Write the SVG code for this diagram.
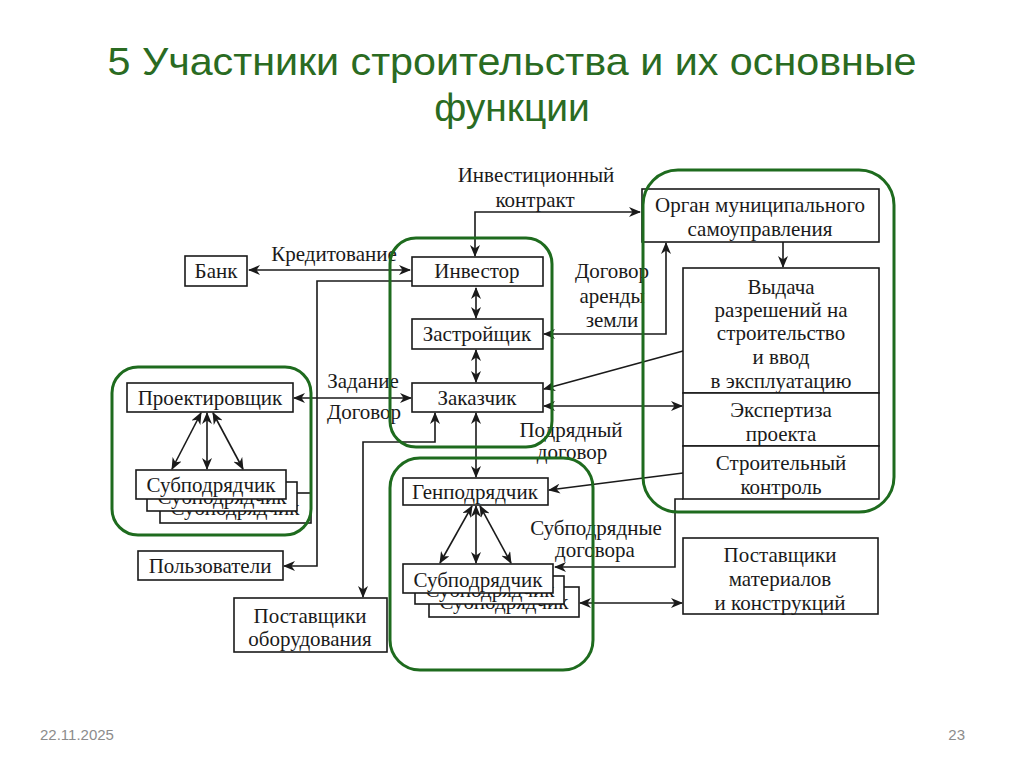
<svg xmlns="http://www.w3.org/2000/svg" width="1024" height="767" viewBox="0 0 1024 767">
<style>
.t{font-family:"Liberation Serif","Times New Roman",serif;font-size:21px;fill:#1a1a1a;text-anchor:middle}
.b{fill:#fff;stroke:#1a1a1a;stroke-width:1.6}
.c{fill:none;stroke:#1a1a1a;stroke-width:1.6}
.g{fill:none;stroke:#1e6b1e;stroke-width:3}
.title{font-family:"Liberation Sans",Arial,sans-serif;font-size:39px;fill:#2a6b22;text-anchor:middle}
.foot{font-family:"Liberation Sans",Arial,sans-serif;font-size:15px;fill:#8c8c8c}
</style>
<defs>
<marker id="a" viewBox="0 0 12 10" refX="11" refY="5" markerWidth="12" markerHeight="10" markerUnits="userSpaceOnUse" orient="auto-start-reverse">
<path d="M0,0 L12,5 L0,10 L3.5,5 z" fill="#1a1a1a"/>
</marker>
</defs>
<rect width="1024" height="767" fill="#fff"/>
<text class="title" x="512" y="75" textLength="809" lengthAdjust="spacingAndGlyphs">5 Участники строительства и их основные</text>
<text class="title" x="512" y="121">функции</text>

<g id="connectors" class="c">
<path d="M249,270 H410" marker-start="url(#a)" marker-end="url(#a)"/>
<path d="M475,256 V212 H640" marker-start="url(#a)" marker-end="url(#a)"/>
<path d="M783,242 V267" marker-end="url(#a)"/>
<path d="M476,288 V318" marker-start="url(#a)" marker-end="url(#a)"/>
<path d="M476,350 V382" marker-start="url(#a)" marker-end="url(#a)"/>
<path d="M476,413 V477" marker-start="url(#a)" marker-end="url(#a)"/>
<path d="M666,243 V334 H544" marker-start="url(#a)" marker-end="url(#a)"/>
<path d="M683,351 L544,389" marker-end="url(#a)"/>
<path d="M544,406 H682" marker-start="url(#a)" marker-end="url(#a)"/>
<path d="M683,473 L549,490" marker-end="url(#a)"/>
<path d="M683,499 H675 V567 H555" marker-end="url(#a)"/>
<path d="M580,603 H682" marker-start="url(#a)" marker-end="url(#a)"/>
<path d="M412,281 H317 V566 H284" marker-end="url(#a)"/>
<path d="M435,413 V442 H363 V597" marker-start="url(#a)" marker-end="url(#a)"/>
<path d="M294,398 H411" marker-start="url(#a)" marker-end="url(#a)"/>
<path d="M472,506 L440,563" marker-start="url(#a)" marker-end="url(#a)"/>
<path d="M476,506 V563" marker-start="url(#a)" marker-end="url(#a)"/>
<path d="M480,506 L511,563" marker-start="url(#a)" marker-end="url(#a)"/>
<path d="M201,413 L172,469" marker-start="url(#a)" marker-end="url(#a)"/>
<path d="M207,413 V469" marker-start="url(#a)" marker-end="url(#a)"/>
<path d="M213,413 L243,469" marker-start="url(#a)" marker-end="url(#a)"/>
</g>

<g id="labels" class="t">
<text x="334" y="261">Кредитование</text>
<text x="536" y="182">Инвестиционный</text>
<text x="535" y="207">контракт</text>
<text x="612" y="278">Договор</text>
<text x="612" y="303">аренды</text>
<text x="612" y="327">земли</text>
<text x="363" y="388">Задание</text>
<text x="364" y="419">Договор</text>
<text x="571" y="437">Подрядный</text>
<text x="572" y="459">договор</text>
<text x="596" y="535">Субподрядные</text>
<text x="595" y="557">договора</text>
</g>

<g id="bank"><rect class="b" x="185" y="256" width="62" height="30"/><text class="t" x="216" y="278">Банк</text></g>
<g id="investor"><rect class="b" x="412" y="257" width="131" height="29"/><text class="t" x="477" y="278">Инвестор</text></g>
<g id="organ"><rect class="b" x="642" y="189" width="237" height="53"/><text class="t" x="760" y="212">Орган муниципального</text><text class="t" x="760" y="236">самоуправления</text></g>
<g id="vydacha"><rect class="b" x="683" y="268" width="196" height="125"/>
<text class="t" x="781" y="294">Выдача</text><text class="t" x="781" y="317">разрешений на</text><text class="t" x="781" y="340">строительство</text><text class="t" x="781" y="364">и ввод</text><text class="t" x="781" y="388">в эксплуатацию</text></g>
<g id="ekspertiza"><rect class="b" x="683" y="393" width="196" height="53"/><text class="t" x="781" y="417">Экспертиза</text><text class="t" x="781" y="441">проекта</text></g>
<g id="kontrol"><rect class="b" x="683" y="446" width="196" height="53"/><text class="t" x="781" y="470">Строительный</text><text class="t" x="781" y="494">контроль</text></g>
<g id="zastroyshik"><rect class="b" x="412" y="319" width="131" height="30"/><text class="t" x="477" y="341">Застройщик</text></g>
<g id="zakazchik"><rect class="b" x="412" y="383" width="131" height="29"/><text class="t" x="477" y="405">Заказчик</text></g>
<g id="genpodryadchik"><rect class="b" x="403" y="478" width="145" height="27"/><text class="t" x="475" y="499">Генподрядчик</text></g>
<g id="subpodryadchik-right">
<rect class="b" x="429" y="587" width="150" height="30"/><text class="t" x="504" y="609">Субподрядчик</text>
<rect class="b" x="415" y="576" width="149" height="28"/><text class="t" x="490" y="597">Субподрядчик</text>
<rect class="b" x="403" y="564" width="150" height="29"/><text class="t" x="478" y="587">Субподрядчик</text>
</g>
<g id="postavshiki-mat"><rect class="b" x="683" y="538" width="195" height="76"/><text class="t" x="780" y="562">Поставщики</text><text class="t" x="780" y="586">материалов</text><text class="t" x="780" y="610">и конструкций</text></g>
<g id="proektirovshik"><rect class="b" x="127" y="383" width="166" height="29"/><text class="t" x="210" y="405">Проектировщик</text></g>
<g id="subpodryadchik-left">
<rect class="b" x="160" y="493" width="151" height="30"/><text class="t" x="235" y="515">Субподрядчик</text>
<rect class="b" x="147" y="482" width="150" height="29"/><text class="t" x="222" y="504">Субподрядчик</text>
<rect class="b" x="136" y="470" width="150" height="29"/><text class="t" x="211" y="492">Субподрядчик</text>
</g>
<g id="polzovateli"><rect class="b" x="138" y="551" width="145" height="29"/><text class="t" x="210" y="573">Пользователи</text></g>
<g id="postavshiki-ob"><rect class="b" x="234" y="598" width="153" height="54"/><text class="t" x="310" y="623">Поставщики</text><text class="t" x="310" y="646">оборудования</text></g>

<g id="frames" class="g">
<rect x="643" y="170" width="251" height="342" rx="35"/>
<rect x="390" y="238" width="162" height="209" rx="26"/>
<rect x="112" y="367" width="199" height="168" rx="26"/>
<rect x="390" y="458" width="203" height="212" rx="30"/>
</g>

<text class="foot" x="40" y="740">22.11.2025</text>
<text class="foot" x="965" y="740" text-anchor="end">23</text>
</svg>
